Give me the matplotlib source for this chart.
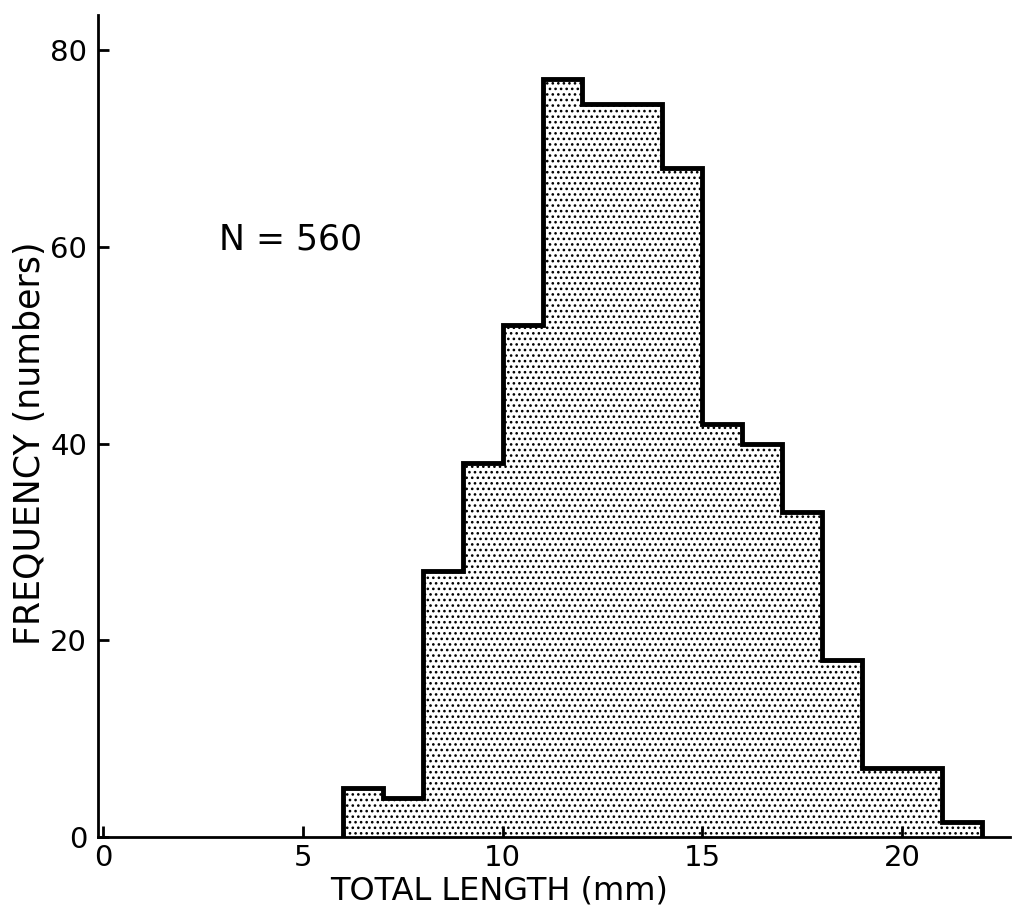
import matplotlib.pyplot as plt
import numpy as np

# histograma de longitud total, N = 560
plt.rcParams['font.family'] = 'DejaVu Sans'
plt.rcParams['hatch.linewidth'] = 1.1
plt.rcParams['hatch.color'] = 'black'

# limites de clase (mm) y frecuencias
bordes = np.arange(6, 23)
frecuencias = [5, 4, 27, 38, 52, 77, 74.5, 74.5, 68, 42, 40, 33, 18, 7, 7, 1.5]

xticks = [0, 5, 10, 15, 20]
yticks = [0, 20, 40, 60, 80]

fig = plt.figure(figsize=(10.13, 9.09), dpi=100)
ax = fig.add_axes([0.097, 0.079, 0.9, 0.904])

# relleno punteado y contorno grueso
ax.stairs(frecuencias, bordes, fill=True, facecolor='white', edgecolor='black',
          hatch='...', linewidth=0)
ax.stairs(frecuencias, bordes, fill=False, color='black', linewidth=3.5, baseline=0)

ax.set_xlim(-0.12, 22.7)
ax.set_ylim(0, 83.5)
ax.set_xticks(xticks)
ax.set_yticks(yticks)

for s in ['top', 'right']:
    ax.spines[s].set_visible(False)
for s in ['left', 'bottom']:
    ax.spines[s].set_linewidth(2)

ax.tick_params(direction='in', length=8, width=2, labelsize=21)
ax.tick_params(axis='x', pad=5)
ax.tick_params(axis='y', pad=8)

ax.set_xlabel('TOTAL LENGTH (mm)', fontsize=23)
ax.xaxis.set_label_coords(0.44, -0.047)
ax.set_ylabel('FREQUENCY (numbers)', fontsize=25)
ax.yaxis.set_label_coords(-0.056, 0.48)

ax.text(2.9, 60.7, 'N = 560', fontsize=25, va='center', ha='left')

plt.savefig('out.png', dpi=100)
